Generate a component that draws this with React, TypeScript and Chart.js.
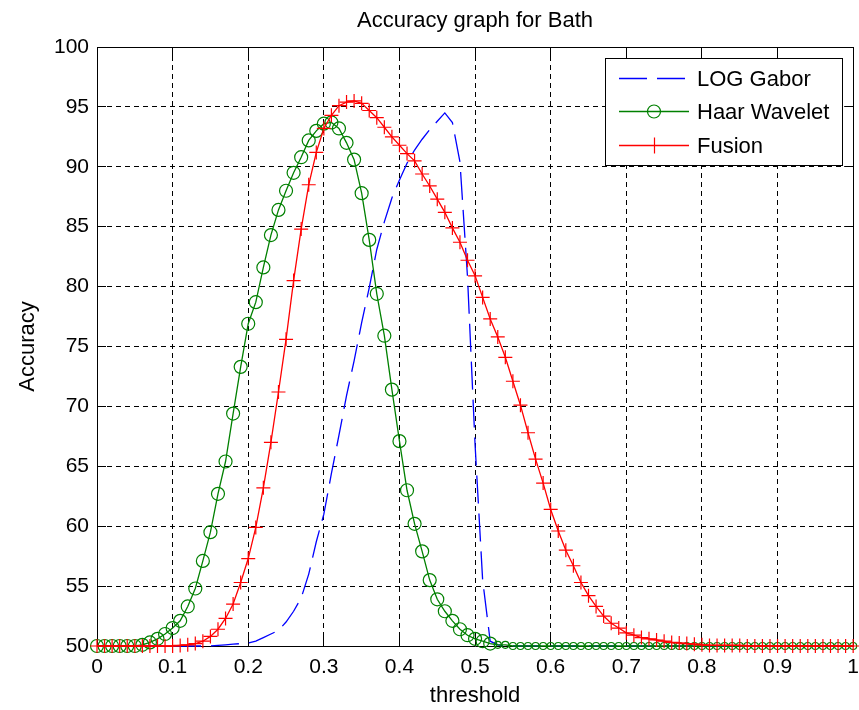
import React, { useEffect, useRef } from 'react';
import { Chart, registerables } from 'chart.js';

Chart.register(...registerables);

const chartTitle = 'Accuracy graph for Bath';
const xAxisTitle = 'threshold';
const yAxisTitle = 'Accuracy';
const seriesNames = ['LOG Gabor', 'Haar Wavelet', 'Fusion'];

const thresholds = [
  0.0, 0.01, 0.02, 0.03, 0.04, 0.05, 0.06, 0.07, 0.08, 0.09,
  0.1, 0.11, 0.12, 0.13, 0.14, 0.15, 0.16, 0.17, 0.18, 0.19,
  0.2, 0.21, 0.22, 0.23, 0.24, 0.25, 0.26, 0.27, 0.28, 0.29,
  0.3, 0.31, 0.32, 0.33, 0.34, 0.35, 0.36, 0.37, 0.38, 0.39,
  0.4, 0.41, 0.42, 0.43, 0.44, 0.45, 0.46, 0.47, 0.48, 0.49,
  0.5, 0.51, 0.52, 0.53, 0.54, 0.55, 0.56, 0.57, 0.58, 0.59,
  0.6, 0.61, 0.62, 0.63, 0.64, 0.65, 0.66, 0.67, 0.68, 0.69,
  0.7, 0.71, 0.72, 0.73, 0.74, 0.75, 0.76, 0.77, 0.78, 0.79,
  0.8, 0.81, 0.82, 0.83, 0.84, 0.85, 0.86, 0.87, 0.88, 0.89,
  0.9, 0.91, 0.92, 0.93, 0.94, 0.95, 0.96, 0.97, 0.98, 0.99,
  1.0,
];

const logGabor = [
  50.0, 50.0, 50.0, 50.0, 50.0, 50.0, 50.0, 50.0, 50.0, 50.0,
  50.0, 50.0, 50.0, 50.0, 50.0, 50.0, 50.05, 50.1, 50.15, 50.2,
  50.25, 50.4, 50.7, 51.0, 51.3, 52.0, 52.9, 54.0, 56.0, 58.7,
  61.0, 64.4, 67.6, 70.9, 73.8, 77.0, 79.9, 83.1, 85.4, 87.4,
  88.9, 90.3, 91.4, 92.3, 93.1, 93.8, 94.5, 93.7, 90.4, 80.8,
  66.8, 55.5, 50.4, 50.1, 50.0, 50.0, 50.0, 50.0, 50.0, 50.0,
  50.0, 50.0, 50.0, 50.0, 50.0, 50.0, 50.0, 50.0, 50.0, 50.0,
  50.0, 50.0, 50.0, 50.0, 50.0, 50.0, 50.0, 50.0, 50.0, 50.0,
  50.0, 50.0, 50.0, 50.0, 50.0, 50.0, 50.0, 50.0, 50.0, 50.0,
  50.0, 50.0, 50.0, 50.0, 50.0, 50.0, 50.0, 50.0, 50.0, 50.0,
  50.0,
];

const haarWavelet = [
  50.0, 50.0, 50.0, 50.0, 50.0, 50.0, 50.1, 50.3, 50.6, 51.0,
  51.5, 52.1, 53.3, 54.8, 57.1, 59.5, 62.7, 65.4, 69.4, 73.3,
  76.9, 78.7, 81.6, 84.3, 86.4, 88.0, 89.5, 90.8, 92.2, 93.0,
  93.6, 93.7, 93.2, 92.0, 90.6, 87.8, 83.9, 79.4, 75.9, 71.4,
  67.1, 63.0, 60.2, 57.9, 55.5, 53.9, 52.9, 52.1, 51.4, 50.9,
  50.6, 50.4, 50.2, 50.1, 50.1, 50.0, 50.0, 50.0, 50.0, 50.0,
  50.0, 50.0, 50.0, 50.0, 50.0, 50.0, 50.0, 50.0, 50.0, 50.0,
  50.0, 50.0, 50.0, 50.0, 50.0, 50.0, 50.0, 50.0, 50.0, 50.0,
  50.0, 50.0, 50.0, 50.0, 50.0, 50.0, 50.0, 50.0, 50.0, 50.0,
  50.0, 50.0, 50.0, 50.0, 50.0, 50.0, 50.0, 50.0, 50.0, 50.0,
  50.0,
];

const fusion = [
  50.0, 50.0, 50.0, 50.0, 50.0, 50.0, 50.0, 50.0, 50.0, 50.0,
  50.0, 50.05, 50.1, 50.2, 50.4, 50.8, 51.4, 52.3, 53.5, 55.3,
  57.3, 59.9, 63.2, 67.0, 71.2, 75.6, 80.5, 84.8, 88.5, 91.2,
  93.2, 94.3, 95.1, 95.4, 95.5, 95.3, 94.7, 94.1, 93.3, 92.5,
  91.8, 91.1, 90.5, 89.4, 88.4, 87.3, 86.2, 84.9, 83.7, 82.2,
  80.9, 79.1, 77.3, 75.8, 74.1, 72.1, 70.1, 67.8, 65.6, 63.6,
  61.4, 59.6, 58.0, 56.7, 55.3, 54.2, 53.3, 52.5, 51.9, 51.5,
  51.1, 50.9, 50.7, 50.6, 50.5, 50.4, 50.3, 50.25, 50.2, 50.15,
  50.1, 50.05, 50.05, 50.05, 50.05, 50.05, 50.0, 50.0, 50.0, 50.0,
  50.0, 50.0, 50.0, 50.0, 50.0, 50.0, 50.0, 50.0, 50.0, 50.0,
  50.0,
];

const xTickValues = [0, 0.1, 0.2, 0.3, 0.4, 0.5, 0.6, 0.7, 0.8, 0.9, 1];
const xTickLabels = ['0', '0.1', '0.2', '0.3', '0.4', '0.5', '0.6', '0.7', '0.8', '0.9', '1'];
const yTickValues = [50, 55, 60, 65, 70, 75, 80, 85, 90, 95, 100];
const yTickLabels = ['50', '55', '60', '65', '70', '75', '80', '85', '90', '95', '100'];

const FONT = '"Liberation Sans", Arial, Helvetica, sans-serif';
const BLUE = '#0000ff';
const GREEN = '#008000';
const RED = '#ff0000';
const DASH = [28, 10];
const GRID_DASH = [5, 4];

const toPoints = (ys: number[]) => ys.map((y, i) => ({ x: thresholds[i], y }));

const align = (p: number) => Math.round(p - 0.5) + 0.5;

const decorPlugin = {
  id: 'decor',
  beforeDatasetsDraw(chart: any) {
    const { ctx, chartArea: a, scales } = chart;
    const x = scales.x;
    const y = scales.y;
    const tl = 9;
    ctx.save();
    ctx.strokeStyle = '#000';
    ctx.lineWidth = 1;
    ctx.setLineDash([]);
    ctx.beginPath();
    for (const v of xTickValues) {
      const px = align(x.getPixelForValue(v));
      ctx.moveTo(px, a.bottom);
      ctx.lineTo(px, a.bottom - tl);
      ctx.moveTo(px, a.top);
      ctx.lineTo(px, a.top + tl);
    }
    for (const v of yTickValues) {
      const py = align(y.getPixelForValue(v));
      ctx.moveTo(a.left, py);
      ctx.lineTo(a.left + tl, py);
      ctx.moveTo(a.right, py);
      ctx.lineTo(a.right - tl, py);
    }
    const top = align(a.top);
    ctx.moveTo(a.left, top);
    ctx.lineTo(a.right, top);
    const right = align(a.right);
    ctx.moveTo(right, a.top);
    ctx.lineTo(right, a.bottom);
    ctx.stroke();
    ctx.restore();
  },
  afterDraw(chart: any) {
    const { ctx } = chart;
    ctx.save();
    ctx.fillStyle = '#000';
    ctx.font = `22px ${FONT}`;
    ctx.textAlign = 'center';
    ctx.textBaseline = 'alphabetic';
    ctx.fillText(chartTitle, 475, 27);

    const bx = 605.5, by = 58.5, bw = 237, bh = 107;
    ctx.fillStyle = '#fff';
    ctx.fillRect(bx, by, bw, bh);
    ctx.strokeStyle = '#000';
    ctx.lineWidth = 1;
    ctx.setLineDash([]);
    ctx.strokeRect(bx, by, bw, bh);

    const rows = [78, 111, 145];
    const x1 = 619, x2 = 689, xm = 654;
    chart.data.datasets.forEach((ds: any, i: number) => {
      const yy = rows[i] + 0.5;
      ctx.save();
      ctx.strokeStyle = ds.borderColor;
      ctx.lineWidth = ds.borderWidth;
      ctx.setLineDash(ds.borderDash || []);
      ctx.beginPath();
      ctx.moveTo(x1, yy);
      ctx.lineTo(x2, yy);
      ctx.stroke();
      ctx.setLineDash([]);
      ctx.lineWidth = 1.2;
      if (ds.pointStyle === 'circle') {
        ctx.beginPath();
        ctx.arc(xm, yy, 6.5, 0, Math.PI * 2);
        ctx.stroke();
      } else if (ds.pointStyle === 'cross') {
        ctx.beginPath();
        ctx.moveTo(xm + 0.5, yy - 8);
        ctx.lineTo(xm + 0.5, yy + 8);
        ctx.moveTo(xm - 8, yy);
        ctx.lineTo(xm + 8, yy);
        ctx.stroke();
      }
      ctx.restore();
      ctx.fillStyle = '#000';
      ctx.font = `22px ${FONT}`;
      ctx.textAlign = 'left';
      ctx.textBaseline = 'alphabetic';
      ctx.fillText(seriesNames[i], 697, rows[i] + 8);
    });
    ctx.restore();
  },
};

export default function App() {
  const ref = useRef<HTMLCanvasElement | null>(null);

  useEffect(() => {
    if (!ref.current) return;
    Chart.defaults.font.family = FONT;
    const chart = new Chart(ref.current, {
      type: 'line',
      data: {
        datasets: [
          {
            label: seriesNames[0],
            data: toPoints(logGabor),
            borderColor: BLUE,
            backgroundColor: BLUE,
            borderWidth: 1.3,
            borderDash: DASH,
            pointRadius: 0,
            pointStyle: false as any,
            tension: 0,
            clip: false as any,
            order: 2,
          },
          {
            label: seriesNames[1],
            data: toPoints(haarWavelet),
            borderColor: GREEN,
            backgroundColor: GREEN,
            borderWidth: 1.3,
            pointStyle: 'circle',
            pointRadius: (c: any) => (c.dataIndex > 52 ? 3.5 : 6.5),
            pointBorderWidth: 1.2,
            pointBorderColor: GREEN,
            pointBackgroundColor: 'rgba(0,0,0,0)',
            tension: 0,
            clip: false as any,
            order: 1,
          },
          {
            label: seriesNames[2],
            data: toPoints(fusion),
            borderColor: RED,
            backgroundColor: RED,
            borderWidth: 1.3,
            pointStyle: 'cross',
            pointRadius: 7,
            pointBorderWidth: 1.2,
            pointBorderColor: RED,
            tension: 0,
            clip: false as any,
            order: 0,
          },
        ],
      },
      options: {
        animation: false,
        responsive: false,
        maintainAspectRatio: false,
        devicePixelRatio: 1,
        events: [],
        layout: { padding: { left: 0, top: 47, right: 9, bottom: 0 } },
        plugins: {
          legend: { display: false },
          tooltip: { enabled: false },
          title: { display: false },
        },
        scales: {
          x: {
            type: 'linear',
            min: 0,
            max: 1,
            afterBuildTicks: (s: any) => {
              s.ticks = xTickValues.map((v) => ({ value: v }));
            },
            afterFit: (s: any) => {
              s.height = 64;
            },
            ticks: {
              callback: (_v: any, i: number) => xTickLabels[i],
              font: { size: 21 },
              color: '#000',
              padding: 9,
              maxRotation: 0,
              autoSkip: false,
            },
            grid: { color: '#000', lineWidth: 1, drawTicks: false },
            border: { display: true, color: '#000', width: 1, dash: GRID_DASH },
            title: {
              display: true,
              text: xAxisTitle,
              font: { size: 22 },
              color: '#000',
              padding: { top: 0, bottom: 1 },
            },
          },
          y: {
            type: 'linear',
            min: 50,
            max: 100,
            afterBuildTicks: (s: any) => {
              s.ticks = yTickValues.map((v) => ({ value: v }));
            },
            afterFit: (s: any) => {
              s.width = 97;
            },
            ticks: {
              callback: (_v: any, i: number) => yTickLabels[i],
              font: { size: 21 },
              color: '#000',
              padding: 8,
              autoSkip: false,
            },
            grid: { color: '#000', lineWidth: 1, drawTicks: false },
            border: { display: true, color: '#000', width: 1, dash: GRID_DASH },
            title: {
              display: true,
              text: yAxisTitle,
              font: { size: 22 },
              color: '#000',
              padding: { top: 15, bottom: 0 },
            },
          },
        },
      },
      plugins: [decorPlugin],
    } as any);
    return () => chart.destroy();
  }, []);

  return (
    <div style={{ position: 'fixed', left: 0, top: 0, width: 868, height: 710, background: '#fff' }}>
      <canvas ref={ref} width={868} height={710} style={{ display: 'block', width: 868, height: 710 }} />
    </div>
  );
}
